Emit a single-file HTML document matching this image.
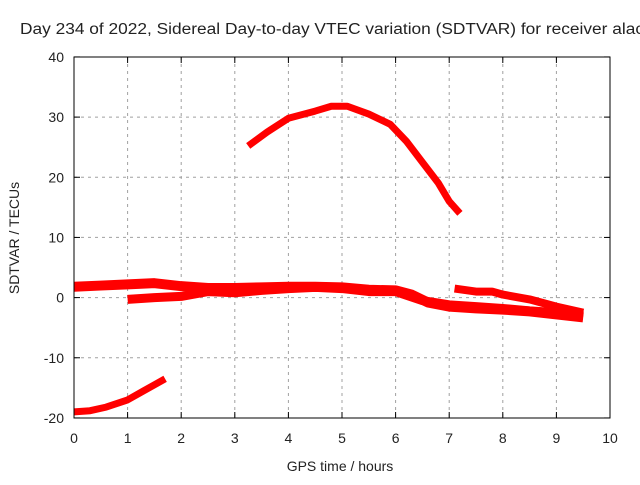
<!DOCTYPE html>
<html><head><meta charset="utf-8"><style>
body{margin:0;background:#fff;width:640px;height:480px;overflow:hidden}
text{font-family:"Liberation Sans",sans-serif;font-size:14px;fill:#222}
</style></head><body>
<svg id="chart" width="640" height="480" xmlns="http://www.w3.org/2000/svg">
<text x="20" y="34" style="font-size:15.5px" textLength="624" lengthAdjust="spacingAndGlyphs">Day 234 of 2022, Sidereal Day-to-day VTEC variation (SDTVAR) for receiver alac</text>
<g id="grid"></g>
<g id="ticks"></g>
<g id="series"></g>
<rect x="74" y="57" width="536" height="361" fill="none" stroke="#000" stroke-width="1"/>
<text x="340" y="471" text-anchor="middle">GPS time / hours</text>
<text transform="translate(19,238) rotate(-90)" text-anchor="middle">SDTVAR / TECUs</text>
</svg>
<script>
const xTicks=[0,1,2,3,4,5,6,7,8,9,10];
const yTicks=[-20,-10,0,10,20,30,40];
const seriesUpperX=[0,0.5,1,1.5,2,2.5,3,3.5,4,4.5,5,5.5,6,6.3,6.6,7,7.5,8,8.5,9,9.5];
const seriesUpperY=[1.8,2,2.2,2.4,1.9,1.6,1.6,1.7,1.8,1.8,1.7,1.3,1.2,0.5,-0.8,-1.5,-1.8,-2,-2.3,-2.8,-3.3];
const seriesMidX=[1,1.5,2,2.5,3,3.5,4,4.5,5,5.5,6,6.5,7,7.5,8,8.5,9,9.5];
const seriesMidY=[-0.3,0,0.2,1,0.8,1.2,1.5,1.7,1.5,1,1,-0.5,-1.2,-1.5,-1.8,-2.2,-2.5,-3];
const seriesLateX=[7.1,7.5,7.8,8,8.5,9,9.5];
const seriesLateY=[1.5,1,1,0.5,-0.3,-1.5,-2.5];
const seriesLowX=[0,0.3,0.6,1,1.3,1.7];
const seriesLowY=[-19,-18.8,-18.2,-17,-15.5,-13.5];
const seriesHighX=[3.25,3.6,4,4.5,4.8,5.1,5.5,5.9,6.2,6.5,6.8,7.0,7.2];
const seriesHighY=[25.2,27.5,29.8,31,31.8,31.8,30.5,28.8,26,22.5,19,16,14];
const NS="http://www.w3.org/2000/svg";
const X=v=>74+v*53.6, Y=v=>297.6-v*6.0167;
function mk(t,a,p){const e=document.createElementNS(NS,t);for(const k in a)e.setAttribute(k,a[k]);p.appendChild(e);return e;}
const g=document.getElementById('grid'),tk=document.getElementById('ticks'),sg=document.getElementById('series');
xTicks.forEach(v=>{
 if(v>0&&v<10){const l=mk('line',{x1:X(v),x2:X(v),y1:57,y2:418,stroke:'#a0a0a0','stroke-dasharray':'3,4'},g);
 }
 mk('line',{x1:X(v),x2:X(v),y1:418,y2:412,stroke:'#000'},tk);mk('line',{x1:X(v),x2:X(v),y1:57,y2:63,stroke:'#000'},tk);
 const t=mk('text',{x:X(v),y:443,'text-anchor':'middle'},tk);t.textContent=v;
 
});
yTicks.forEach(v=>{
 if(v>-20&&v<40){const l=mk('line',{x1:74,x2:610,y1:Y(v),y2:Y(v),stroke:'#a0a0a0','stroke-dasharray':'3,4'},g);
 }
 mk('line',{x1:74,x2:80,y1:Y(v),y2:Y(v),stroke:'#000'},tk);mk('line',{x1:604,x2:610,y1:Y(v),y2:Y(v),stroke:'#000'},tk);
 const t=mk('text',{x:64,y:Y(v)+5,'text-anchor':'end'},tk);t.textContent=v;
 
});
[[seriesUpperX,seriesUpperY,'series-upper',10],[seriesMidX,seriesMidY,'series-mid',9],[seriesLateX,seriesLateY,'series-late',8],[seriesLowX,seriesLowY,'series-low',7],[seriesHighX,seriesHighY,'series-high',7]].forEach(([xs,ys,n,w])=>{
 const p=mk('polyline',{points:xs.map((x,i)=>X(x)+','+Y(ys[i])).join(' '),fill:'none',stroke:'#ff0000','stroke-width':w,'stroke-linejoin':'round'},sg);
 
 
});
</script>
</body></html>
